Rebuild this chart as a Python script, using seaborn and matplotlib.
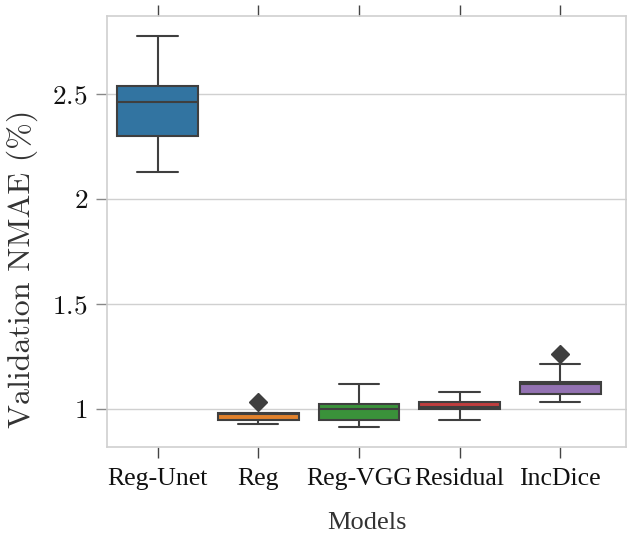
import matplotlib
matplotlib.use("Agg")
import matplotlib.pyplot as plt
import pandas as pd
import seaborn as sns

# Models on the x axis
models = ["Reg-Unet", "Reg", "Reg-VGG", "Residual", "IncDice"]

# Validation NMAE (%) per run
reg_unet = [2.129, 2.20, 2.300, 2.40, 2.462, 2.50, 2.538, 2.65, 2.776]
reg = [0.927, 0.940, 0.948, 0.965, 0.976, 0.978, 0.980, 0.980, 1.033]
reg_vgg = [0.913, 0.930, 0.948, 0.975, 0.998, 1.010, 1.025, 1.070, 1.119]
residual = [0.949, 0.975, 0.998, 1.004, 1.010, 1.020, 1.035, 1.060, 1.081]
incdice = [1.035, 1.050, 1.070, 1.100, 1.120, 1.125, 1.130, 1.215, 1.260]

df = pd.DataFrame({
    "model": sum([[m] * 9 for m in models], []),
    "nmae": reg_unet + reg + reg_vgg + residual + incdice,
})

sns.set_theme(style="whitegrid")
plt.rcParams["font.family"] = ["Liberation Serif", "DejaVu Serif"]
plt.rcParams["mathtext.fontset"] = "cm"

fig, ax = plt.subplots(figsize=(6.27, 5.34), dpi=100)
fig.subplots_adjust(left=0.171, right=0.998, bottom=0.163, top=0.970)

sns.boxplot(data=df, x="model", y="nmae", hue="model", palette="tab10",
            saturation=0.75, width=0.8, linewidth=1.5, linecolor="#3f3f3f",
            flierprops=dict(marker="D", markersize=9, markerfacecolor="#3f3f3f",
                            markeredgecolor="#3f3f3f"),
            legend=False, ax=ax)

ax.set_xlim(-0.5, 4.65)
ax.set_ylim(0.819, 2.871)
ax.set_yticks([1, 1.5, 2, 2.5])
ax.set_yticklabels([r"$1$", r"$1.5$", r"$2$", r"$2.5$"])
ax.grid(axis="x", visible=False)
ax.grid(axis="y", color="#d0d0d0", linewidth=1)

for s in ax.spines.values():
    s.set_color("#d0d0d0")
    s.set_linewidth(1.2)

ax.tick_params(axis="x", which="both", bottom=True, top=True, direction="out",
               length=8, width=1, color="#444444", labelsize=18.5, pad=7,
               labelcolor="#111111")
ax.tick_params(axis="y", which="both", left=True, right=True, direction="out",
               length=8, width=1, color="#888888", labelsize=19.5, pad=6,
               labelcolor="#111111")

ax.set_xlabel("Models", fontsize=19, color="#333333", labelpad=16)
ax.set_ylabel(r"Validation NMAE (%)", fontsize=23, color="#333333",
              family=["cmr10", "DejaVu Serif"])
ax.yaxis.set_label_coords(-0.133, 0.413)

fig.savefig("out.png", dpi=100)
